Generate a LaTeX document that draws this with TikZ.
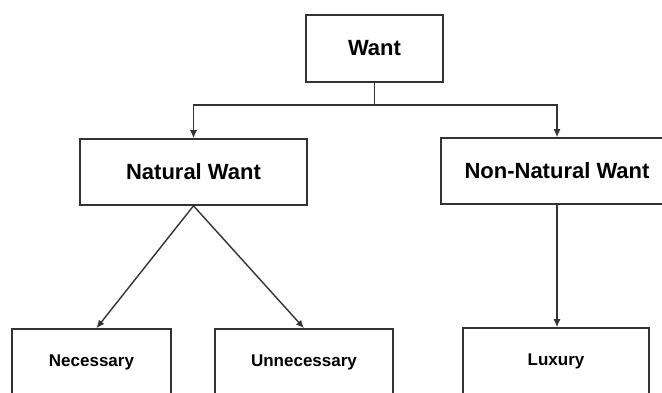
\documentclass[tikz,border=0pt]{standalone}
\usepackage{fontspec}
\setmainfont{Liberation Sans}
\usetikzlibrary{arrows.meta}
\tikzset{
    wantbox/.style={draw=black!80,line width=1.6pt,fill=white,inner sep=0pt,
        font=\bfseries\fontsize{22}{26}\selectfont},
    kindbox/.style={wantbox,font=\bfseries\fontsize{17}{20}\selectfont},
    link/.style={draw=black!80,line width=1.4pt},
    arrow/.style={link,-{Latex[length=8pt,width=7pt]}}
}
\begin{document}
\begin{tikzpicture}[x=1pt,y=1pt]
        \useasboundingbox (0,0) rectangle (662,-392);
        \clip (0,0) rectangle (662,-392);
        \node[wantbox,minimum width=137pt,minimum height=67pt] (want) at (374.5,-48.5) {Want};
        \node[wantbox,minimum width=227pt,minimum height=66pt] (natural) at (193.5,-172) {Natural Want};
        \node[wantbox,minimum width=232pt,minimum height=66pt] (nonnatural) at (557,-171) {Non-Natural Want};
        \node[kindbox,minimum width=159pt,minimum height=66pt] (necessary) at (91.5,-362) {Necessary};
        \node[kindbox,minimum width=178pt,minimum height=66pt] (unnecessary) at (304,-362) {Unnecessary};
        \node[kindbox,minimum width=186pt,minimum height=66pt] (luxury) at (556,-361) {Luxury};

        \coordinate (split) at ([yshift=-22pt]want.south);
        \draw[link] (want.south) -- (split);
        \draw[arrow] (split) -| (natural.north);
        \draw[arrow] (split) -| (nonnatural.north);

        \draw[arrow] (natural.south) -- ([xshift=5pt]necessary.north);
        \draw[arrow] (natural.south) -- (unnecessary.north);
        \draw[arrow] (nonnatural.south) -- (nonnatural.south |- luxury.north);
    \end{tikzpicture}
\end{document}
